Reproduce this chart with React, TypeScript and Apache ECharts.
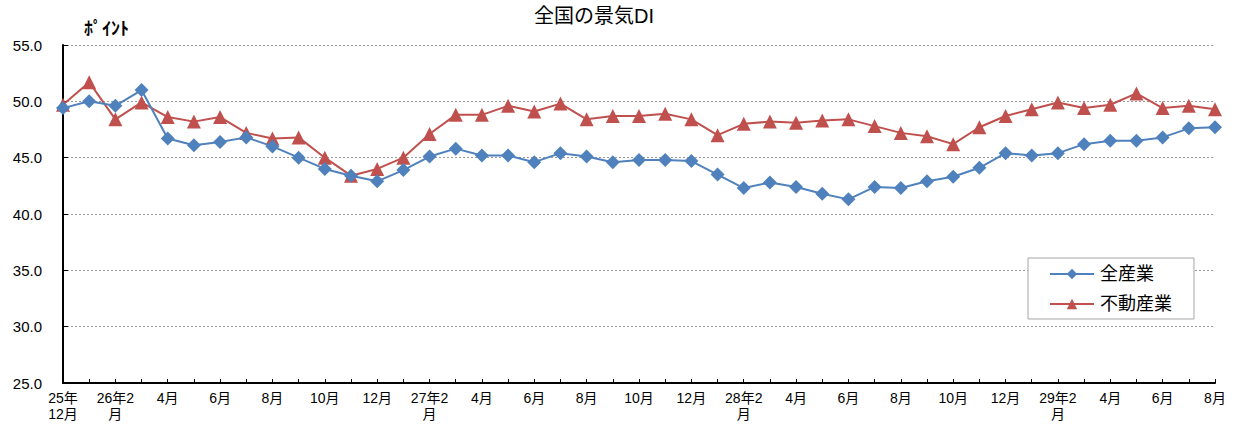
import React, { useEffect, useRef } from "react";
import * as echarts from "echarts";

const categories: string[] = [
  "25年\n12月", "1月", "26年2\n月", "3月", "4月", "5月", "6月", "7月", "8月", "9月", "10月", "11月", "12月",
  "1月", "27年2\n月", "3月", "4月", "5月", "6月", "7月", "8月", "9月", "10月", "11月", "12月",
  "1月", "28年2\n月", "3月", "4月", "5月", "6月", "7月", "8月", "9月", "10月", "11月", "12月",
  "1月", "29年2\n月", "3月", "4月", "5月", "6月", "7月", "8月",
];

const allIndustries: number[] = [
  49.4, 50.0, 49.6, 51.0, 46.7, 46.1, 46.4, 46.8, 46.0, 45.0, 44.0, 43.4, 42.9,
  43.9, 45.1, 45.8, 45.2, 45.2, 44.6, 45.4, 45.1, 44.6, 44.8, 44.8, 44.7,
  43.5, 42.3, 42.8, 42.4, 41.8, 41.3, 42.4, 42.3, 42.9, 43.3, 44.1, 45.4,
  45.2, 45.4, 46.2, 46.5, 46.5, 46.8, 47.6, 47.7,
];

const realEstate: number[] = [
  49.7, 51.7, 48.4, 49.9, 48.6, 48.2, 48.6, 47.2, 46.7, 46.8, 45.0, 43.4, 44.0,
  45.0, 47.1, 48.8, 48.8, 49.6, 49.1, 49.8, 48.4, 48.7, 48.7, 48.9, 48.4,
  47.0, 48.0, 48.2, 48.1, 48.3, 48.4, 47.8, 47.2, 46.9, 46.2, 47.7, 48.7,
  49.3, 49.9, 49.4, 49.7, 50.7, 49.4, 49.6, 49.3,
];

const seriesNames = ["全産業", "不動産業"];
const titleText = "全国の景気DI";
const unitText = "ﾎﾟｲﾝﾄ";

const FONT = "'Liberation Sans', 'Noto Sans CJK JP', sans-serif";

export default function App() {
  const ref = useRef<HTMLDivElement>(null);
  useEffect(() => {
    document.body.style.margin = "0";
    if (!ref.current) return;
    const chart = echarts.init(ref.current, undefined, { renderer: "svg" });
    chart.setOption({
      animation: false,
      backgroundColor: "#ffffff",
      textStyle: { fontFamily: FONT },
      grid: { left: 63, right: 21, top: 45, bottom: 45, containLabel: false },
      graphic: [
        {
          type: "text",
          left: 534,
          top: 6,
          style: { text: titleText, fontSize: 20, fill: "#000", fontFamily: FONT },
        },
        {
          type: "text",
          left: 84,
          top: 18,
          style: { text: unitText, fontSize: 18, fontWeight: "bold", fill: "#000", fontFamily: "'Noto Sans CJK JP', sans-serif" },
        },
      ],
      legend: {
        orient: "vertical",
        left: 1028,
        top: 258,
        padding: [7, 22, 6, 21],
        itemGap: 12,
        itemWidth: 44,
        itemHeight: 13,
        backgroundColor: "#fff",
        borderColor: "#a6a6a6",
        borderWidth: 1,
        textStyle: { fontSize: 18, color: "#000", fontFamily: FONT, padding: [0, 0, 0, 1] },
        data: seriesNames,
      },
      xAxis: {
        type: "category",
        data: categories,
        boundaryGap: false,
        axisLine: { lineStyle: { color: "#000", width: 2 } },
        axisTick: { show: true, inside: true, length: 4, interval: 0, lineStyle: { color: "#000" } },
        axisLabel: {
          interval: 1,
          fontSize: 14,
          lineHeight: 16,
          color: "#000",
          margin: 7,
          fontFamily: FONT,
        },
        splitLine: { show: false },
      },
      yAxis: {
        type: "value",
        min: 25,
        max: 55,
        interval: 5,
        axisLine: { show: true, lineStyle: { color: "#000", width: 2 } },
        axisTick: { show: true, inside: true, length: 5, lineStyle: { color: "#000" } },
        axisLabel: {
          fontSize: 15,
          color: "#000",
          margin: 21,
          fontFamily: FONT,
          formatter: (v: number) => v.toFixed(1),
        },
        splitLine: { show: true, lineStyle: { color: "#9a9a9a", type: [2, 2], width: 1 } },
      },
      series: [
        {
          name: seriesNames[0],
          type: "line",
          data: allIndustries,
          symbol: "diamond",
          symbolSize: 14,
          itemStyle: { color: "#4F81BD" },
          lineStyle: { color: "#4F81BD", width: 2 },
          z: 3,
        },
        {
          name: seriesNames[1],
          type: "line",
          data: realEstate,
          symbol: "triangle",
          symbolSize: 14,
          itemStyle: { color: "#C0504D" },
          lineStyle: { color: "#C0504D", width: 2 },
          z: 2,
        },
      ],
    });
    return () => chart.dispose();
  }, []);
  return <div ref={ref} style={{ width: 1236, height: 428 }} />;
}
